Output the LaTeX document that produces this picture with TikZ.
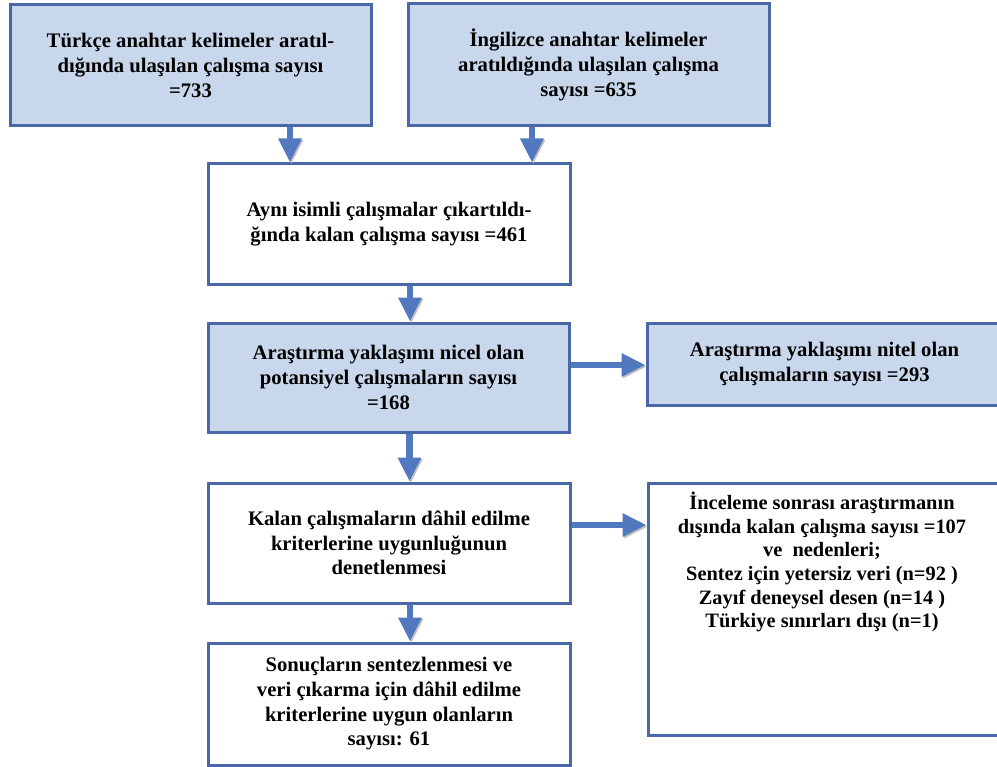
\documentclass[tikz,border=0pt]{standalone}
\usepackage{fontspec}
\setmainfont{Liberation Serif}
\usetikzlibrary{arrows.meta,calc}
\definecolor{bordc}{HTML}{4A67A8}
\definecolor{fillc}{HTML}{C9D7ED}
\definecolor{arrc}{HTML}{5279C0}
\begin{document}
\begin{tikzpicture}[x=0.75pt,y=-0.75pt,
  box/.style={draw=bordc, line width=2.25pt, rectangle, align=center,
    font=\fontsize{15.5}{18.5}\selectfont\bfseries, inner sep=0pt},
  bluebox/.style={box, fill=fillc},
  whitebox/.style={box, fill=white},
  txt/.style={align=center, font=\fontsize{15.3}{17.7}\selectfont\bfseries, inner sep=0pt},
  arr/.style={draw=arrc, line width=5pt, -{Triangle[width=16.5pt 0, length=18pt 0]},
    preaction={draw=black!25, transform canvas={xshift=1pt,yshift=-1.2pt}}}]
\useasboundingbox (0,0) rectangle (997,767);
\fill[white] (0,0) rectangle (997,767);

\node[bluebox, minimum width=270.75pt, minimum height=90.75pt] (b1) at (190.5,65.5)
  {Türkçe anahtar kelimeler aratıl-\\dığında ulaşılan çalışma sayısı\\=733};
\node[bluebox, minimum width=270.75pt, minimum height=91.5pt] (b2) at (588.5,65)
  {İngilizce anahtar kelimeler\\aratıldığında ulaşılan çalışma\\sayısı =635};
\node[whitebox, minimum width=271.5pt, minimum height=90pt] (b3) at (389,224)
  {Aynı isimli çalışmalar çıkartıldı-\\ğında kalan çalışma sayısı =461};
\node[bluebox, minimum width=270.75pt, minimum height=81.75pt] (b4) at (388.5,377.5)
  {Araştırma yaklaşımı nicel olan\\potansiyel çalışmaların sayısı\\=168};
\node[bluebox, minimum width=266.25pt, minimum height=61.5pt] (b5) at (824.5,364)
  {Araştırma yaklaşımı nitel olan\\çalışmaların sayısı =293};
\node[whitebox, minimum width=271.5pt, minimum height=90pt] (b6) at (389,543)
  {Kalan çalışmaların dâhil edilme\\kriterlerine uygunluğunun\\denetlenmesi};
\node[whitebox, minimum width=271.5pt, minimum height=91.5pt] (b7) at (389,704)
  {Sonuçların sentezlenmesi ve\\veri çıkarma için dâhil edilme\\kriterlerine uygun olanların\\sayısı: 61};
\node[whitebox, minimum width=265.5pt, minimum height=189pt] (b8) at (825,609) {};
\node[txt, anchor=north] (t8) at (822,492)
  {İnceleme sonrası araştırmanın\\dışında kalan çalışma sayısı =107\\ve~ nedenleri;\\Sentez için yetersiz veri (n=92 )\\Zayıf deneysel desen (n=14 )\\Türkiye sınırları dışı (n=1)};

\coordinate (a1) at ([xshift=74.6pt]b1.south);
\coordinate (a2) at ([xshift=-42.4pt]b2.south);
\coordinate (a3) at ([xshift=15.75pt]b3.south);
\coordinate (a4) at ([xshift=15.75pt]b4.south);
\coordinate (a5) at ([xshift=15.75pt]b6.south);
\coordinate (a6) at ([yshift=9.4pt]b4.east);
\coordinate (a7) at ([yshift=13.5pt]b6.east);
\draw[arr] (a1) -- (a1 |- b3.north);
\draw[arr] (a2) -- (a2 |- b3.north);
\draw[arr] (a3) -- (a3 |- b4.north);
\draw[arr] (a4) -- (a4 |- b6.north);
\draw[arr] (a5) -- (a5 |- b7.north);
\draw[arr] (a6) -- (a6 -| b5.west);
\draw[arr] (a7) -- (a7 -| b8.west);
\end{tikzpicture}
\end{document}
